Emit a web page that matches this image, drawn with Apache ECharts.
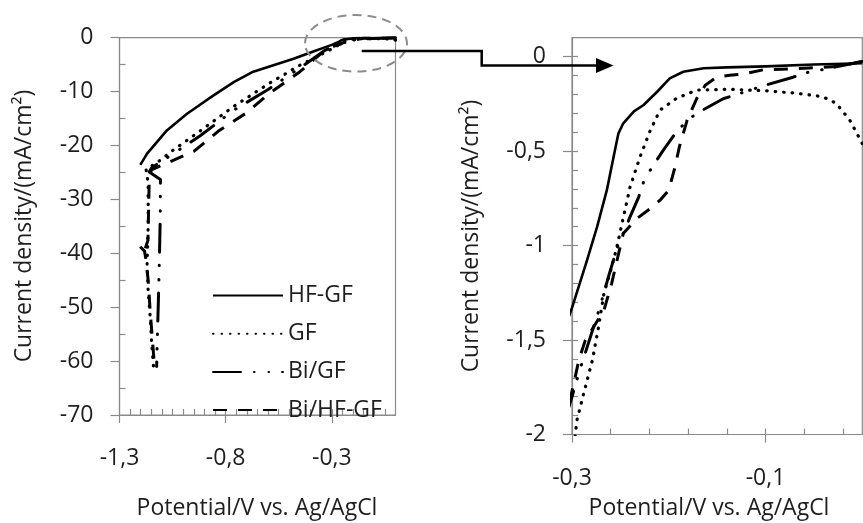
<!DOCTYPE html>
<html>
<head>
<meta charset="utf-8">
<script src="https://cdn.jsdelivr.net/npm/echarts@6.0.0/dist/echarts.min.js"></script>
<style>
  html, body { margin: 0; padding: 0; background: #fff; }
  #chart { width: 863px; height: 523px; }
</style>
</head>
<body>
<div id="chart"></div>
<script>
// Cathodic polarisation curves, current density vs potential (V vs. Ag/AgCl)
const seriesNames = ['HF-GF', 'GF', 'Bi/GF', 'Bi/HF-GF'];

const hfgfV = [0, -0.05, -0.1, -0.14, -0.164, -0.185, -0.199, -0.212, -0.226, -0.236, -0.247, -0.252, -0.257, -0.264, -0.274, -0.2845, -0.3, -0.33, -0.39, -0.48, -0.575, -0.67, -0.76, -0.857, -0.982, -1.077, -1.17, -1.202];
const hfgfJ = [-0.035, -0.042, -0.052, -0.057, -0.062, -0.08, -0.115, -0.186, -0.256, -0.29, -0.353, -0.406, -0.53, -0.707, -0.9, -1.078, -1.33, -1.75, -2.6, -3.9, -5.1, -6.3, -8.2, -10.7, -14.1, -17.2, -21.5, -23.6];

const gfV = [0, -0.013, -0.027, -0.041, -0.068, -0.1025, -0.137, -0.171, -0.192, -0.209, -0.219, -0.2296, -0.24, -0.2468, -0.2536, -0.259, -0.267, -0.2726, -0.279, -0.288, -0.295, -0.2966, -0.31, -0.45, -0.6, -0.76, -0.92, -1.045, -1.124, -1.175, -1.165, -1.165, -1.17, -1.165, -1.155, -1.148, -1.14];
const gfJ = [-0.46, -0.336, -0.247, -0.212, -0.194, -0.18, -0.173, -0.177, -0.221, -0.283, -0.389, -0.53, -0.69, -0.848, -1.007, -1.113, -1.254, -1.432, -1.608, -1.785, -1.926, -2.006, -2.3, -5.1, -8.6, -12.7, -17.3, -20.8, -23.2, -24.4, -27, -35, -42, -47, -52, -57, -61];

const biGfV = [0, -0.042, -0.058, -0.0716, -0.1025, -0.1437, -0.171, -0.181, -0.192, -0.2056, -0.219, -0.226, -0.231, -0.24, -0.2485, -0.2536, -0.262, -0.272, -0.282, -0.292, -0.3, -0.33, -0.45, -0.6, -0.76, -0.92, -1.05, -1.15, -1.16, -1.107, -1.108, -1.112, -1.117, -1.122, -1.125];
const biGfJ = [-0.026, -0.07, -0.085, -0.109, -0.155, -0.223, -0.3, -0.339, -0.398, -0.495, -0.6, -0.663, -0.742, -0.848, -0.954, -1.016, -1.16, -1.34, -1.5, -1.66, -1.8, -2.3, -5.6, -9.6, -13.4, -18.2, -21.6, -24.2, -24.9, -26.3, -33, -41, -49, -56, -61];

const biHfgfV = [0, -0.027, -0.06, -0.1025, -0.123, -0.137, -0.1505, -0.162, -0.171, -0.181, -0.189, -0.1935, -0.2, -0.209, -0.219, -0.233, -0.247, -0.259, -0.267, -0.2863, -0.293, -0.299, -0.3, -0.35, -0.45, -0.6, -0.7, -0.83, -0.95, -1.05, -1.15, -1.16, -1.163, -1.166, -1.182, -1.207, -1.182, -1.175, -1.165, -1.155, -1.145, -1.135];
const biHfgfJ = [-0.026, -0.053, -0.062, -0.07, -0.092, -0.099, -0.109, -0.15, -0.221, -0.336, -0.477, -0.583, -0.707, -0.76, -0.804, -0.857, -0.936, -1.2, -1.343, -1.502, -1.608, -1.75, -1.77, -2.9, -6.3, -10.5, -13.9, -17.2, -21.1, -22.8, -24.5, -26.5, -32, -37.6, -39.5, -38.6, -39.6, -41.3, -45, -51, -56, -61];

// Axis tick labels
const fullXTicks = [-1.3, -0.8, -0.3];
const fullYTicks = [0, -10, -20, -30, -40, -50, -60, -70];
const zoomXTicks = [-0.3, -0.1];
const zoomYTicks = [0, -0.5, -1, -1.5, -2];

const TEXT = '#1e1e1e';
const AXIS = '#8a8a8a';
const FONT = 'Open Sans';
const FS = 23;

function zip(xs, ys) { return xs.map((x, i) => [x, ys[i]]); }
function steps(from, to, step) {
  const out = [];
  const n = Math.round((to - from) / step);
  for (let i = 0; i <= n; i++) out.push(+(from + i * step).toFixed(6));
  return out;
}
const fmt = v => String(+v.toFixed(3)).replace('.', ',');

const curves = [
  { name: seriesNames[0], data: zip(hfgfV, hfgfJ), line: { width: 2.6, type: 'solid' } },
  { name: seriesNames[1], data: zip(gfV, gfJ), line: { width: 3.2, type: [0.5, 8], cap: 'round' } },
  { name: seriesNames[2], data: zip(biGfV, biGfJ), line: { width: 3, type: [28, 13, 0.5, 14, 0.5, 13], cap: 'round' } },
  { name: seriesNames[3], data: zip(biHfgfV, biHfgfJ), line: { width: 3, type: [14, 11] } }
];

const labelStyle = { color: TEXT, fontFamily: FONT, fontSize: FS, fontWeight: 'normal' };

// Primary axes carry the line, labels and outward major ticks;
// secondary axes carry the short inward ticks.
function mainX(grid, min, max, ticks) {
  return {
    type: 'value', gridIndex: grid, min, max, position: 'bottom',
    axisLine: { show: true, onZero: false, lineStyle: { color: AXIS, width: 1.2 } },
    axisTick: { show: true, inside: false, length: 8, customValues: ticks, lineStyle: { color: AXIS, width: 1.2 } },
    axisLabel: Object.assign({ show: true, customValues: ticks, margin: 32, formatter: fmt }, labelStyle),
    splitLine: { show: false }
  };
}
function innerX(grid, min, max, ticks) {
  return {
    type: 'value', gridIndex: grid, min, max, position: 'bottom',
    axisLine: { show: false, onZero: false },
    axisTick: { show: true, inside: true, length: 6, customValues: ticks, lineStyle: { color: AXIS, width: 1.2 } },
    axisLabel: { show: false },
    splitLine: { show: false }
  };
}
function mainY(grid, min, max, ticks) {
  return {
    type: 'value', gridIndex: grid, min, max, position: 'left',
    axisLine: { show: true, onZero: false, lineStyle: { color: AXIS, width: 1.2 } },
    axisTick: { show: true, inside: false, length: 9, customValues: ticks, lineStyle: { color: AXIS, width: 1.2 } },
    axisLabel: Object.assign({ show: true, customValues: ticks, margin: 26, formatter: fmt }, labelStyle),
    splitLine: { show: false }
  };
}
function innerY(grid, min, max, ticks) {
  return {
    type: 'value', gridIndex: grid, min, max, position: 'left',
    axisLine: { show: false, onZero: false },
    axisTick: { show: true, inside: true, length: 6, customValues: ticks, lineStyle: { color: AXIS, width: 1.2 } },
    axisLabel: { show: false },
    splitLine: { show: false }
  };
}

const series = [];
[0, 1].forEach(g => {
  curves.forEach(c => {
    series.push({
      type: 'line', name: c.name, data: c.data,
      xAxisIndex: g * 2, yAxisIndex: g * 2,
      showSymbol: false, symbol: 'none', clip: true, silent: true,
      lineStyle: { color: '#000', width: c.line.width, type: c.line.type, cap: c.line.cap || 'butt', join: 'round' },
      itemStyle: { color: '#000' }
    });
  });
});

const titleFont = FS + 'px "Open Sans"';

const chart = echarts.init(document.getElementById('chart'), null, { renderer: 'canvas' });
chart.setOption({
  animation: false,
  backgroundColor: '#fff',
  grid: [
    { left: 119.5, top: 37.7, width: 276, height: 377.3, show: true, borderColor: AXIS, borderWidth: 1.2, backgroundColor: 'transparent' },
    { left: 572, top: 37.7, width: 290.3, height: 396.8, show: true, borderColor: AXIS, borderWidth: 1.2, backgroundColor: 'transparent' }
  ],
  xAxis: [
    mainX(0, -1.3, 0, fullXTicks),
    innerX(0, -1.3, 0, steps(-1.25, -0.05, 0.05)),
    mainX(1, -0.3, 0, zoomXTicks),
    innerX(1, -0.3, 0, steps(-0.26, -0.02, 0.04))
  ],
  yAxis: [
    mainY(0, -70, 0, fullYTicks),
    innerY(0, -70, 0, steps(-65, -5, 10)),
    mainY(1, -2, 0.1, zoomYTicks),
    innerY(1, -2, 0.1, steps(-1.9, 0, 0.1))
  ],
  legend: {
    show: true, orient: 'vertical', left: 212, top: 284, padding: 0,
    itemWidth: 70, itemHeight: 14, itemGap: 15.2, selectedMode: false,
    itemStyle: { opacity: 0 },
    data: seriesNames,
    textStyle: Object.assign({}, labelStyle)
  },
  series,
  graphic: [
    { type: 'text', x: 24, y: 226, rotation: Math.PI / 2,
      style: { text: 'Current density/(mA/cm²)', fill: TEXT, font: titleFont, textAlign: 'center', textVerticalAlign: 'middle' } },
    { type: 'text', x: 471, y: 236, rotation: Math.PI / 2,
      style: { text: 'Current density/(mA/cm²)', fill: TEXT, font: titleFont, textAlign: 'center', textVerticalAlign: 'middle' } },
    { type: 'text', x: 257, y: 508,
      style: { text: 'Potential/V vs. Ag/AgCl', fill: TEXT, font: titleFont, textAlign: 'center', textVerticalAlign: 'middle' } },
    { type: 'text', x: 709, y: 508,
      style: { text: 'Potential/V vs. Ag/AgCl', fill: TEXT, font: titleFont, textAlign: 'center', textVerticalAlign: 'middle' } },
    // magnifier outline around the flat region
    { type: 'ellipse', shape: { cx: 356, cy: 43.3, rx: 51, ry: 28.3 }, z: 100,
      style: { fill: null, stroke: '#8c8c8c', lineWidth: 2, lineDash: [9, 6] } },
    // connector to the detail plot
    { type: 'polyline', shape: { points: [[361.7, 51], [481.7, 51], [481.7, 65.5], [598, 65.5]] }, z: 100,
      style: { fill: null, stroke: '#000', lineWidth: 2.5 } },
    { type: 'polygon', shape: { points: [[596, 58], [613.5, 65.5], [596, 73]] }, z: 100,
      style: { fill: '#000', stroke: null } }
  ]
});
</script>
</body>
</html>
